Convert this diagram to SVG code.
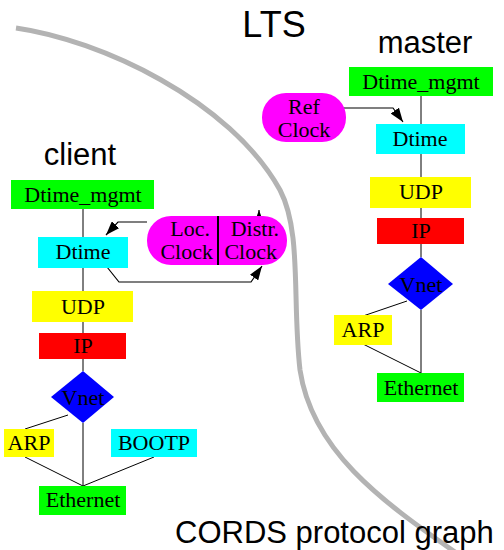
<svg xmlns="http://www.w3.org/2000/svg" width="504" height="550" viewBox="0 0 504 550">
<defs>
<marker id="ah" markerUnits="userSpaceOnUse" markerWidth="15" markerHeight="10" refX="14" refY="5" orient="auto">
<path d="M0,0 L14,5 L0,10 z" fill="#000"/>
</marker>
<style>
.lbl{font-family:"Liberation Sans",Arial,sans-serif;fill:#000}
.nt{font-family:"Liberation Serif","Times New Roman",serif;font-size:22px;fill:#000;text-anchor:middle}
.ne{text-anchor:end}
.edge{stroke:#000;stroke-width:1;fill:none}
.arr{stroke:#000;stroke-width:1.2;fill:none;marker-end:url(#ah)}
</style>
</defs>
<rect width="504" height="550" fill="#fff"/>
<path d="M16,28 C100,40 230,100 280,190 C302,232 292,300 300,370 C312,450 380,500 455,552" fill="none" stroke="#b3b3b3" stroke-width="5"/>
<text class="lbl" x="274" y="37" font-size="36" text-anchor="middle">LTS</text>
<text class="lbl" x="80" y="165" font-size="31" text-anchor="middle">client</text>
<text class="lbl" x="425" y="53" font-size="31" text-anchor="middle">master</text>
<text class="lbl" x="175" y="543" font-size="31">CORDS protocol graph</text>
<g id="connectors">
<path class="edge" d="M83,209 V237 M83,268 V291 M83,322 V333 M83,359 V371 M83,423 V486 M68,415 L25,429 M25,457 L83,486 M154,457 L83,486"/>
<path class="edge" d="M421,96 V124 M421,154 V177 M421,208 V218 M421,244 V257 M421,310 V373 M407,301 L363,316 M363,344 L421,373"/>
<path class="arr" d="M147,222 L118,222 L106,235"/>
<path class="arr" d="M107,267 L119,282 L251,282 L262,266"/>
<path class="arr" d="M259,233 L259,210"/>
<path class="arr" d="M343,108 L393,108 L403,122"/>
</g>
<g id="c_dtime_mgmt"><rect x="11" y="180" width="143" height="29" fill="#00ff00"/><text class="nt" x="83" y="202">Dtime_mgmt</text></g>
<g id="c_dtime"><rect x="38" y="237" width="90" height="31" fill="#00ffff"/><text class="nt" x="83" y="259">Dtime</text></g>
<g id="clock">
<rect x="147" y="216" width="140" height="49" rx="24" ry="24" fill="#ff00ff"/>
<line x1="218" y1="216" x2="218" y2="265" stroke="#000" stroke-width="2"/>
<text class="nt ne" x="210" y="236">Loc.</text>
<text class="nt ne" x="213" y="259">Clock</text>
<text class="nt ne" x="279" y="236">Distr.</text>
<text class="nt ne" x="277" y="259">Clock</text>
</g>
<g id="c_udp"><rect x="32" y="291" width="101" height="31" fill="#ffff00"/><text class="nt" x="83" y="314">UDP</text></g>
<g id="c_ip"><rect x="39" y="333" width="87" height="26" fill="#ff0000"/><text class="nt" x="83" y="353">IP</text></g>
<g id="c_vnet"><polygon points="83,371 114,397 83,423 51,397" fill="#0000ff"/><text class="nt" x="83" y="405">Vnet</text></g>
<g id="c_arp"><rect x="4" y="429" width="50" height="28" fill="#ffff00"/><text class="nt" x="29" y="450">ARP</text></g>
<g id="c_bootp"><rect x="111" y="429" width="86" height="28" fill="#00ffff"/><text class="nt" x="154" y="450">BOOTP</text></g>
<g id="c_ethernet"><rect x="39" y="486" width="87" height="29" fill="#00ff00"/><text class="nt" x="83" y="507">Ethernet</text></g>
<g id="m_dtime_mgmt"><rect x="349" y="67" width="144" height="29" fill="#00ff00"/><text class="nt" x="421" y="89">Dtime_mgmt</text></g>
<g id="m_refclock"><rect x="262" y="93" width="84" height="49" rx="24" ry="24" fill="#ff00ff"/><text class="nt" x="304" y="114">Ref</text><text class="nt" x="304" y="137">Clock</text></g>
<g id="m_dtime"><rect x="376" y="124" width="89" height="30" fill="#00ffff"/><text class="nt" x="420" y="146">Dtime</text></g>
<g id="m_udp"><rect x="370" y="177" width="101" height="31" fill="#ffff00"/><text class="nt" x="421" y="199">UDP</text></g>
<g id="m_ip"><rect x="377" y="218" width="87" height="26" fill="#ff0000"/><text class="nt" x="421" y="238">IP</text></g>
<g id="m_vnet"><polygon points="421,257 453,284 421,310 388,284" fill="#0000ff"/><text class="nt" x="421" y="292">Vnet</text></g>
<g id="m_arp"><rect x="334" y="315" width="58" height="30" fill="#ffff00"/><text class="nt" x="363" y="337">ARP</text></g>
<g id="m_ethernet"><rect x="377" y="373" width="87" height="29" fill="#00ff00"/><text class="nt" x="421" y="395">Ethernet</text></g>
</svg>
